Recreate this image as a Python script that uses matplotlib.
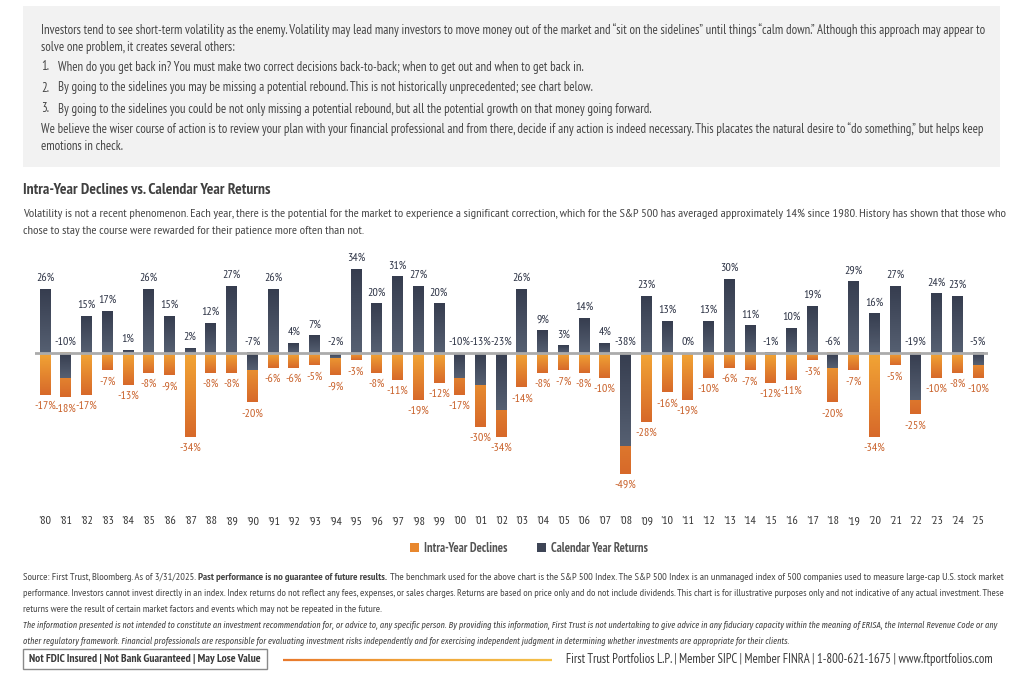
import matplotlib
matplotlib.use("Agg")
import matplotlib.pyplot as plt
import numpy as np
from matplotlib.colors import LinearSegmentedColormap
from matplotlib.patches import Patch, Rectangle
from matplotlib.collections import LineCollection

# ---------------- data ----------------
years = ["'80", "'81", "'82", "'83", "'84", "'85", "'86", "'87", "'88", "'89",
         "'90", "'91", "'92", "'93", "'94", "'95", "'96", "'97", "'98", "'99",
         "'00", "'01", "'02", "'03", "'04", "'05", "'06", "'07", "'08", "'09",
         "'10", "'11", "'12", "'13", "'14", "'15", "'16", "'17", "'18", "'19",
         "'20", "'21", "'22", "'23", "'24", "'25"]
calendar_returns = [26, -10, 15, 17, 1, 26, 15, 2, 12, 27,
                    -7, 26, 4, 7, -2, 34, 20, 31, 27, 20,
                    -10, -13, -23, 26, 9, 3, 14, 4, -38, 23,
                    13, 0, 13, 30, 11, -1, 10, 19, -6, 29,
                    16, 27, -19, 24, 23, -5]
intra_year_declines = [-17, -18, -17, -7, -13, -8, -9, -34, -8, -8,
                       -20, -6, -6, -5, -9, -3, -8, -11, -19, -12,
                       -17, -30, -34, -14, -8, -7, -8, -10, -49, -28,
                       -16, -19, -10, -6, -7, -12, -11, -3, -20, -7,
                       -34, -5, -25, -10, -8, -10]
legend_labels = ["Intra-Year Declines", "Calendar Year Returns"]

# ---------------- styling ----------------
W, H = 1024, 681
FONT = "PT Sans Narrow"
IFONT = "Fira Sans Extra Condensed"
TXT = "#454545"
DARK_LBL = "#2D3345"
ORG_LBL = "#C9612A"
ORG_TOP, ORG_BOT = "#F2A535", "#D7692A"
DRK_TOP, DRK_BOT = "#363D4F", "#566072"

plt.rcParams["font.family"] = [FONT, "DejaVu Sans"]

fig = plt.figure(figsize=(W / 100, H / 100), dpi=100)
fig.patch.set_facecolor("white")
renderer = fig.canvas.get_renderer()


def fy(y):
    return 1 - y / H


def fx(x):
    return x / W


def twidth(s, **kw):
    t = fig.text(0, 0, s, **kw)
    w = t.get_window_extent(renderer).width
    t.remove()
    return w


def fit(s, target, size0, **kw):
    w = twidth(s, fontsize=size0, **kw)
    return size0 * target / w


def put_segments(x, y, segs, size, color=TXT, family=FONT, style="normal"):
    """segs: list of (text, weight); separated by a single space."""
    sp = twidth("a a", fontsize=size, family=family, style=style) - twidth("aa", fontsize=size, family=family, style=style)
    cx = x
    for s, wt in segs:
        fig.text(fx(cx), fy(y), s, fontsize=size, family=family, weight=wt, style=style,
                 color=color, va="center", ha="left")
        cx += twidth(s, fontsize=size, family=family, weight=wt, style=style) + sp


def segs_width(segs, size, family=FONT, style="normal"):
    sp = twidth("a a", fontsize=size, family=family, style=style) - twidth("aa", fontsize=size, family=family, style=style)
    return sum(twidth(s, fontsize=size, family=family, weight=wt, style=style) for s, wt in segs) + sp * (len(segs) - 1)


# ---------------- grey intro box ----------------
fig.patches.append(Rectangle((fx(23), fy(167)), fx(1000) - fx(23), fy(6) - fy(167),
                             transform=fig.transFigure, facecolor="#F2F2F2", edgecolor="none", zorder=0))

body1 = ("Investors tend to see short-term volatility as the enemy. Volatility may lead many investors to move money "
         "out of the market and \u201csit on the sidelines\u201d until things \u201ccalm down.\u201d Although this approach may appear to")
bsize = fit(body1, 942, 9, family=FONT)
body_lines = [
    (41, 30, body1),
    (41, 47, "solve one problem, it creates several others:"),
    (41, 129, "We believe the wiser course of action is to review your plan with your financial professional and from there, "
              "decide if any action is indeed necessary. This placates the natural desire to \u201cdo something,\u201d but helps keep"),
    (41, 146, "emotions in check."),
]
for x, y, s in body_lines:
    fig.text(fx(x), fy(y), s, fontsize=bsize, color=TXT, va="center", ha="left")
items = [
    (67, "1.", "When do you get back in? You must make two correct decisions back-to-back; when to get out and when to get back in."),
    (88, "2.", "By going to the sidelines you may be missing a potential rebound. This is not historically unprecedented; see chart below."),
    (109, "3.", "By going to the sidelines you could be not only missing a potential rebound, but all the potential growth on that money going forward."),
]
for y, n, s in items:
    fig.text(fx(41), fy(y), n, fontsize=bsize, color=TXT, va="center", ha="left")
    fig.text(fx(58), fy(y), s, fontsize=bsize, color=TXT, va="center", ha="left")

# ---------------- title & subtitle ----------------
title = "Intra-Year Declines vs. Calendar Year Returns"
tsize = fit(title, 245, 11, family=FONT, weight="bold")
fig.text(fx(23), fy(190), title, fontsize=tsize, weight="bold", color="#404040", va="center", ha="left")
sub1 = ("Volatility is not a recent phenomenon. Each year, there is the potential for the market to experience a significant "
        "correction, which for the S&P 500 has averaged approximately 14% since 1980. History has shown that those who")
ssize = fit(sub1, 978, 9, family=FONT)
fig.text(fx(23), fy(214), sub1, fontsize=ssize, color=TXT, va="center", ha="left")
fig.text(fx(23), fy(231), "chose to stay the course were rewarded for their patience more often than not.",
         fontsize=ssize, color=TXT, va="center", ha="left")

# ---------------- chart ----------------
n = len(years)
px_per_unit = (978 - 45) / (n - 1)
left_px = 45 - 0.5 * px_per_unit
right_px = 978 + 0.5 * px_per_unit
top_px, bot_px, zero_px = 250, 512, 353
scale = 2.46  # px per percent
ymax = (zero_px - top_px) / scale
ymin = -(bot_px - zero_px) / scale
ax = fig.add_axes([fx(left_px), fy(bot_px), (right_px - left_px) / W, (bot_px - top_px) / H])
ax.set_facecolor("none")

x = np.arange(n)
bw = 0.52
org_cmap = LinearSegmentedColormap.from_list("org", [ORG_TOP, ORG_BOT])
drk_cmap = LinearSegmentedColormap.from_list("drk", [DRK_TOP, DRK_BOT])
grad = np.linspace(0, 1, 256).reshape(-1, 1)

org_bars = ax.bar(x, intra_year_declines, width=bw, color=ORG_BOT, zorder=2, linewidth=0)
drk_bars = ax.bar(x, calendar_returns, width=bw, color=DRK_TOP, zorder=4, linewidth=0)


def shade(bars, cmap, z):
    for b in bars:
        x0, y0 = b.get_x(), b.get_y()
        w, h = b.get_width(), b.get_height()
        if h == 0:
            continue
        lo, hi = min(y0, y0 + h), max(y0, y0 + h)
        ax.imshow(grad, cmap=cmap, aspect="auto", origin="upper",
                  extent=[x0, x0 + w, lo, hi], zorder=z, interpolation="bilinear")


shade(org_bars, org_cmap, 3)
shade(drk_bars, drk_cmap, 5)

ax.axhline(0, color="#ABABAB", lw=2.0, zorder=6)

for i in range(n):
    r = calendar_returns[i]
    d = intra_year_declines[i]
    ax.annotate(f"{r}%", (x[i], max(r, 0)), xytext=(0, 4.5), textcoords="offset points",
                ha="center", va="bottom", fontsize=8.6, color=DARK_LBL, zorder=7)
    ax.annotate(f"{d}%", (x[i], d), xytext=(0, -4.5), textcoords="offset points",
                ha="center", va="top", fontsize=8.6, color=ORG_LBL, zorder=7)

ax.set_xlim(-0.5, n - 0.5)
ax.set_ylim(ymin, ymax)
ax.set_xticks(x)
ax.set_xticklabels(years, fontsize=8.6, color="#333333")
ax.tick_params(axis="x", length=0, pad=3)
ax.set_yticks([])
for sp in ax.spines.values():
    sp.set_visible(False)

handles = [Patch(facecolor="#E8872E", edgecolor="none"), Patch(facecolor="#3E4556", edgecolor="none")]
leg = fig.legend(handles, legend_labels, loc="center", bbox_to_anchor=(fx(529), fy(548)), ncol=2,
                 frameon=False, handlelength=0.7, handleheight=0.7, handletextpad=0.4, columnspacing=2.4,
                 prop={"family": FONT, "weight": "bold", "size": 9.0})
for t in leg.get_texts():
    t.set_color("#555555")

# ---------------- footer ----------------
f1 = [("Source: First Trust, Bloomberg. As of 3/31/2025.", "normal"),
      ("Past performance is no guarantee of future results.", "bold"),
      ("The benchmark used for the above chart is the S&P 500 Index. The S&P 500 Index is an unmanaged index of 500 companies used to measure large-cap U.S. stock market", "normal")]
fsize = 7.5
fsize = fsize * 978 / segs_width(f1, fsize)
put_segments(23, 577, f1, fsize)
f2 = ("performance. Investors cannot invest directly in an index. Index returns do not reflect any fees, expenses, "
      "or sales charges. Returns are based on price only and do not include dividends. This chart is for illustrative purposes "
      "only and not indicative of any actual investment. These")
f2size = fit(f2, 976, fsize, family=FONT)
fig.text(fx(23), fy(593), f2, fontsize=f2size, color=TXT, va="center", ha="left")
fig.text(fx(23), fy(609), "returns were the result of certain market factors and events which may not be repeated in the future.",
         fontsize=f2size, color=TXT, va="center", ha="left")

it1 = ("The information presented is not intended to constitute an investment recommendation for, or advice to, any specific person. "
       "By providing this information, First Trust is not undertaking to give advice in any fiduciary capacity within the meaning of "
       "ERISA, the Internal Revenue Code or any")
isize = fit(it1, 978, 7.5, family=IFONT, style="italic")
fig.text(fx(23), fy(625), it1, fontsize=isize, family=IFONT, style="italic", color=TXT, va="center", ha="left")
fig.text(fx(23), fy(641), "other regulatory framework. Financial professionals are responsible for evaluating investment risks "
         "independently and for exercising independent judgment in determining whether investments are appropriate for their clients.",
         fontsize=isize, family=IFONT, style="italic", color=TXT, va="center", ha="left")

fig.patches.append(Rectangle((fx(23), fy(669)), fx(267) - fx(23), fy(649) - fy(669),
                             transform=fig.transFigure, facecolor="white", edgecolor="#8A8A8A", lw=1.0, zorder=1))
box_txt = "Not FDIC Insured | Not Bank Guaranteed | May Lose Value"
bxs = fit(box_txt, 231, 8, family=FONT, weight="bold")
fig.text(fx(145), fy(659.5), box_txt, fontsize=bxs, weight="bold", color="#3A3A3A", va="center", ha="center", zorder=2)

# gradient rule
rule_cmap = LinearSegmentedColormap.from_list("rule", ["#E8792C", "#F0A53A", "#F4C04A"])
xs = np.linspace(283, 552, 120)
segs = [[(fx(xs[i]), fy(659.5)), (fx(xs[i + 1]), fy(659.5))] for i in range(len(xs) - 1)]
cols = [rule_cmap(i / (len(xs) - 2)) for i in range(len(xs) - 1)]
fig.add_artist(LineCollection(segs, colors=cols, linewidths=1.6, transform=fig.transFigure, capstyle="butt"))

right_txt = "First Trust Portfolios L.P. | Member SIPC | Member FINRA | 1-800-621-1675 | www.ftportfolios.com"
rsize = fit(right_txt, 428, 10, family=FONT)
fig.text(fx(993), fy(660), right_txt, fontsize=rsize, color="#3A3A3A", va="center", ha="right")

fig.savefig("out.png", dpi=100, facecolor="white")
